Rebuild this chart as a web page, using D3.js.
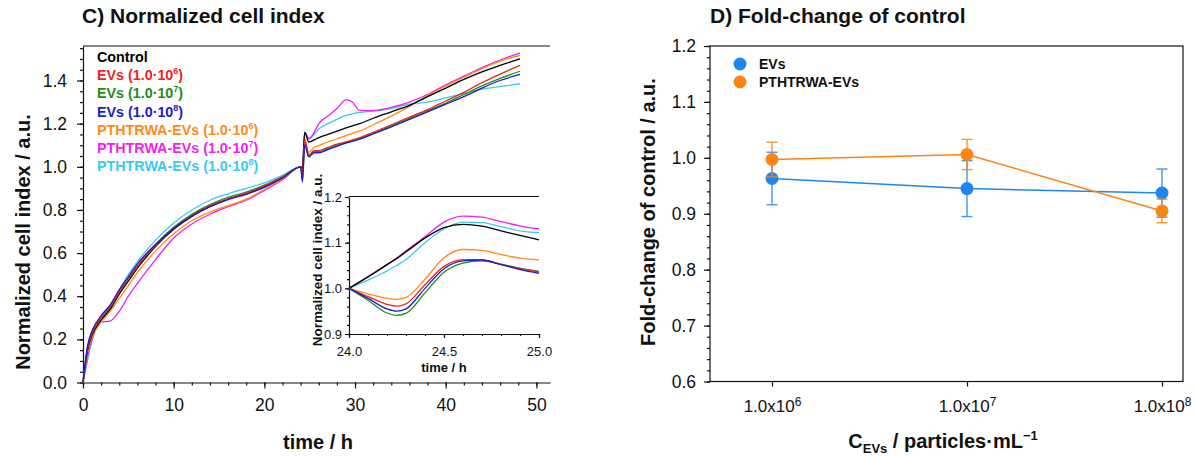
<!DOCTYPE html>
<html>
<head>
<meta charset="utf-8">
<script src="https://cdn.jsdelivr.net/npm/d3@7"></script>
<style>
  body { margin: 0; background: #fff; }
  svg { display: block; font-family: 'Liberation Sans', Arial, sans-serif; }
</style>
</head>
<body>
<svg id="chart" width="1195" height="456"></svg>
<script>
// ---- data: normalized cell index (panel C) ----
const mainTime = [0, 0.5, 1, 2, 3, 4, 5, 6, 8, 10, 12, 14, 16, 18, 20, 22, 24,
  24.2, 24.45, 24.9, 25.5, 26, 27, 28, 29, 29.7, 30.5, 32, 34, 36, 38, 40, 42, 44, 46, 48.2];

const control = [0, 0.15, 0.22, 0.29, 0.34, 0.41, 0.47, 0.53, 0.63, 0.71, 0.77, 0.815, 0.85, 0.875, 0.91, 0.95, 1.0,
  0.99, 1.16, 1.115, 1.125, 1.135, 1.15, 1.165, 1.18, 1.19, 1.2, 1.225, 1.255, 1.285, 1.325, 1.365, 1.405, 1.44, 1.47, 1.50];
const evs6 = [0, 0.16, 0.23, 0.30, 0.35, 0.42, 0.48, 0.54, 0.635, 0.715, 0.775, 0.82, 0.852, 0.878, 0.912, 0.952, 1.0,
  0.96, 1.12, 1.055, 1.075, 1.075, 1.09, 1.105, 1.115, 1.125, 1.135, 1.16, 1.195, 1.23, 1.265, 1.305, 1.345, 1.39, 1.43, 1.47];
const evs7 = [0, 0.16, 0.23, 0.30, 0.355, 0.42, 0.48, 0.54, 0.64, 0.72, 0.78, 0.825, 0.858, 0.883, 0.915, 0.955, 1.0,
  0.94, 1.11, 1.05, 1.07, 1.07, 1.085, 1.1, 1.112, 1.12, 1.13, 1.155, 1.19, 1.225, 1.26, 1.295, 1.335, 1.375, 1.41, 1.443];
const evs8 = [0, 0.17, 0.24, 0.31, 0.36, 0.43, 0.49, 0.55, 0.64, 0.715, 0.772, 0.815, 0.848, 0.872, 0.905, 0.948, 1.0,
  0.93, 1.10, 1.045, 1.065, 1.065, 1.08, 1.095, 1.11, 1.118, 1.128, 1.152, 1.185, 1.22, 1.255, 1.29, 1.325, 1.365, 1.40, 1.428];
const pth6 = [0, 0.14, 0.21, 0.28, 0.33, 0.39, 0.45, 0.51, 0.61, 0.69, 0.75, 0.79, 0.82, 0.85, 0.895, 0.945, 1.0,
  0.97, 1.13, 1.067, 1.09, 1.098, 1.115, 1.13, 1.145, 1.155, 1.165, 1.195, 1.235, 1.28, 1.33, 1.375, 1.415, 1.455, 1.49, 1.516];
const pth7 = [0, 0.12, 0.2, 0.28, 0.285, 0.33, 0.40, 0.46, 0.57, 0.67, 0.735, 0.78, 0.815, 0.845, 0.89, 0.94, 1.0,
  1.0, 1.16, 1.13, 1.16, 1.2, 1.235, 1.27, 1.31, 1.30, 1.262, 1.26, 1.275, 1.3, 1.335, 1.38, 1.42, 1.46, 1.495, 1.527];
const pth8 = [0, 0.10, 0.2, 0.29, 0.35, 0.43, 0.50, 0.56, 0.66, 0.74, 0.80, 0.845, 0.875, 0.9, 0.925, 0.96, 1.0,
  1.0, 1.16, 1.13, 1.15, 1.175, 1.2, 1.22, 1.238, 1.245, 1.252, 1.258, 1.27, 1.29, 1.3, 1.32, 1.34, 1.36, 1.372, 1.385];

// inset, 24-25 h
const insetTime = [24.0, 24.1, 24.2, 24.25, 24.3, 24.4, 24.5, 24.6, 24.7, 24.8, 24.9, 25.0];
const insetControl = [1.0, 1.025, 1.052, 1.065, 1.08, 1.11, 1.133, 1.14, 1.136, 1.126, 1.116, 1.106];
const insetEvs6 = [1.0, 0.982, 0.965, 0.961, 0.966, 1.008, 1.048, 1.063, 1.062, 1.052, 1.043, 1.036];
const insetEvs7 = [1.0, 0.974, 0.946, 0.941, 0.945, 0.99, 1.035, 1.055, 1.060, 1.053, 1.044, 1.037];
const insetEvs8 = [1.0, 0.978, 0.955, 0.950, 0.955, 1.0, 1.043, 1.060, 1.062, 1.052, 1.041, 1.033];
const insetPth6 = [1.0, 0.988, 0.978, 0.976, 0.98, 1.02, 1.067, 1.085, 1.083, 1.074, 1.066, 1.062];
const insetPth7 = [1.0, 1.025, 1.052, 1.066, 1.082, 1.113, 1.145, 1.158, 1.156, 1.146, 1.137, 1.130];
const insetPth8 = [1.0, 1.018, 1.038, 1.05, 1.063, 1.1, 1.13, 1.145, 1.144, 1.135, 1.126, 1.122];

const seriesNames = ['Control', 'EVs', 'EVs', 'EVs', 'PTHTRWA-EVs', 'PTHTRWA-EVs', 'PTHTRWA-EVs'];
const seriesExp = [null, 6, 7, 8, 6, 7, 8];
const seriesColors = ['#000000', '#ee2424', '#1e8c1e', '#1c1cc8', '#ff8a1c', '#f01ef0', '#3cc8f0'];
const mainValues = [control, evs6, evs7, evs8, pth6, pth7, pth8];
const insetValues = [insetControl, insetEvs6, insetEvs7, insetEvs8, insetPth6, insetPth7, insetPth8];

// ---- data: fold-change of control (panel D) ----
const concLevels = [1e6, 1e7, 1e8];
const evsMean = [0.963, 0.945, 0.937];
const evsErr = [0.047, 0.05, 0.043];
const pthMean = [0.997, 1.006, 0.905];
const pthErr = [0.031, 0.027, 0.021];
const foldNames = ['EVs', 'PTHTRWA-EVs'];
const foldColors = ['#1f86f0', '#fb8412'];

const FONT = "'Liberation Sans', Arial, sans-serif";
const svg = d3.select('#chart');

const styleAxis = (g, size) => {
  g.attr('font-size', size).attr('font-family', FONT);
  g.selectAll('path, line').attr('stroke', '#111').attr('stroke-width', 1.2);
  g.selectAll('text').attr('fill', '#111');
};

// ================= panel C =================
{
  const x = d3.scaleLinear().domain([0, 51.5]).range([83, 550]);
  const y = d3.scaleLinear().domain([0, 1.56]).range([382.5, 46]);

  // minor ticks
  svg.append('g')
    .attr('transform', 'translate(0,382.5)')
    .call(d3.axisBottom(x).tickValues(d3.range(0, 51, 2)).tickSize(3).tickFormat(''))
    .call(g => { g.select('.domain').remove(); styleAxis(g, 17); });
  svg.append('g')
    .attr('transform', 'translate(83,0)')
    .call(d3.axisLeft(y).tickValues(d3.range(0, 1.56, 0.05)).tickSize(3).tickFormat(''))
    .call(g => { g.select('.domain').remove(); styleAxis(g, 17); });

  svg.append('g')
    .attr('transform', 'translate(0,382.5)')
    .call(d3.axisBottom(x).tickValues([0, 10, 20, 30, 40, 50]).tickSize(6).tickSizeOuter(0)
      .tickPadding(10).tickFormat(d3.format('d')))
    .call(g => styleAxis(g, 17.5));
  svg.append('g')
    .attr('transform', 'translate(83,0)')
    .call(d3.axisLeft(y).tickValues(d3.range(0, 1.41, 0.2)).tickSize(6).tickSizeOuter(0)
      .tickPadding(10).tickFormat(d3.format('.1f')))
    .call(g => styleAxis(g, 17.5));

  svg.append('line')
    .attr('x1', 83).attr('x2', 550).attr('y1', 46).attr('y2', 46)
    .attr('stroke', '#111').attr('stroke-width', 1.2);

  const line = d3.line()
    .x((d, i) => x(mainTime[i]))
    .y(d => y(d))
    .curve(d3.curveMonotoneX);

  const order = [6, 5, 4, 0, 2, 1, 3];
  svg.append('g').selectAll('path')
    .data(order)
    .join('path')
    .attr('d', k => line(mainValues[k]))
    .attr('fill', 'none')
    .attr('stroke', k => seriesColors[k])
    .attr('stroke-width', 1.3);

  // legend
  const legend = svg.append('g')
    .attr('font-size', 14.3).attr('font-weight', 'bold');
  seriesNames.forEach((name, i) => {
    const t = legend.append('text')
      .attr('x', 97).attr('y', 57 + i * 18.2).attr('dy', '0.35em')
      .attr('fill', seriesColors[i]);
    if (seriesExp[i] === null) {
      t.text(name);
    } else {
      t.append('tspan').text(name + ' (1.0\u00b710');
      t.append('tspan').attr('dy', -6).attr('font-size', 9).text(seriesExp[i]);
      t.append('tspan').attr('dy', 6).text(')');
    }
  });

  svg.append('text')
    .attr('x', 82).attr('y', 23)
    .attr('font-size', 21).attr('font-weight', 'bold').attr('fill', '#111')
    .text('C) Normalized cell index');
  svg.append('text')
    .attr('x', 318).attr('y', 449).attr('text-anchor', 'middle')
    .attr('font-size', 20).attr('font-weight', 'bold').attr('fill', '#111')
    .text('time / h');
  svg.append('text')
    .attr('transform', 'translate(30,242) rotate(-90)').attr('text-anchor', 'middle')
    .attr('font-size', 20).attr('font-weight', 'bold').attr('fill', '#111')
    .text('Normalized cell index / a.u.');

  // inset
  const ix = d3.scaleLinear().domain([24, 25]).range([349, 539]);
  const iy = d3.scaleLinear().domain([0.9, 1.2]).range([334, 197]);

  svg.append('g')
    .attr('transform', 'translate(0,334)')
    .call(d3.axisBottom(ix).tickValues(d3.range(24, 25.01, 0.1)).tickSize(2).tickFormat(''))
    .call(g => { g.select('.domain').remove(); styleAxis(g, 13); });
  svg.append('g')
    .attr('transform', 'translate(349,0)')
    .call(d3.axisLeft(iy).tickValues(d3.range(0.9, 1.201, 0.02)).tickSize(2).tickFormat(''))
    .call(g => { g.select('.domain').remove(); styleAxis(g, 13); });
  svg.append('g')
    .attr('transform', 'translate(0,334)')
    .call(d3.axisBottom(ix).tickValues([24, 24.5, 25]).tickSize(4).tickSizeOuter(0)
      .tickPadding(9).tickFormat(d3.format('.1f')))
    .call(g => styleAxis(g, 13));
  svg.append('g')
    .attr('transform', 'translate(349,0)')
    .call(d3.axisLeft(iy).tickValues([0.9, 1.0, 1.1, 1.2]).tickSize(4).tickSizeOuter(0)
      .tickPadding(3).tickFormat(d3.format('.1f')))
    .call(g => styleAxis(g, 13));
  svg.append('line')
    .attr('x1', 349).attr('x2', 539).attr('y1', 196.5).attr('y2', 196.5)
    .attr('stroke', '#111').attr('stroke-width', 1.2);

  const iline = d3.line()
    .x((d, i) => ix(insetTime[i]))
    .y(d => iy(d))
    .curve(d3.curveMonotoneX);

  svg.append('g').selectAll('path')
    .data(order)
    .join('path')
    .attr('d', k => iline(insetValues[k]))
    .attr('fill', 'none')
    .attr('stroke', k => seriesColors[k])
    .attr('stroke-width', 1.3);

  svg.append('text')
    .attr('x', 444).attr('y', 372).attr('text-anchor', 'middle')
    .attr('font-size', 13).attr('font-weight', 'bold').attr('fill', '#111')
    .text('time / h');
  svg.append('text')
    .attr('transform', 'translate(322,260) rotate(-90)').attr('text-anchor', 'middle')
    .attr('font-size', 13.5).attr('font-weight', 'bold').attr('fill', '#111')
    .text('Normalized cell index / a.u.');
}

// ================= panel D =================
{
  const x = d3.scaleLog().domain([1e6, 1e8]).range([772, 1162]);
  const y = d3.scaleLinear().domain([0.6, 1.2]).range([381.5, 46]);

  svg.append('rect')
    .attr('x', 710).attr('y', 46).attr('width', 473).attr('height', 335.5)
    .attr('fill', 'none').attr('stroke', '#111').attr('stroke-width', 1.2);

  svg.append('g')
    .attr('transform', 'translate(710,0)')
    .call(d3.axisLeft(y).tickValues(d3.range(0.6, 1.201, 0.02)).tickSize(3).tickFormat(''))
    .call(g => { g.select('.domain').remove(); styleAxis(g, 17); });
  svg.append('g')
    .attr('transform', 'translate(710,0)')
    .call(d3.axisLeft(y).tickValues(d3.range(0.6, 1.201, 0.1)).tickSize(6).tickSizeOuter(0)
      .tickPadding(8).tickFormat(d3.format('.1f')))
    .call(g => { g.select('.domain').remove(); styleAxis(g, 17.5); });

  svg.append('g')
    .attr('transform', 'translate(0,381.5)')
    .call(d3.axisBottom(x).tickValues(concLevels).tickSize(5).tickPadding(13).tickFormat(''))
    .call(g => {
      g.select('.domain').remove();
      styleAxis(g, 17);
      g.selectAll('.tick text').each(function(d) {
        const t = d3.select(this);
        t.append('tspan').text('1.0x10');
        t.append('tspan').attr('dy', -6).attr('font-size', 12).text(Math.round(Math.log10(d)));
      });
    });

  const series = [
    {mean: evsMean, err: evsErr, color: foldColors[0]},
    {mean: pthMean, err: pthErr, color: foldColors[1]}
  ];

  series.forEach(s => {
    const g = svg.append('g');
    const line = d3.line().x((d, i) => x(concLevels[i])).y(d => y(d));
    g.append('path')
      .attr('d', line(s.mean))
      .attr('fill', 'none').attr('stroke', s.color).attr('stroke-width', 1.5);

    const bars = g.selectAll('.err').data(s.mean).join('g').attr('class', 'err')
      .attr('stroke', s.color).attr('stroke-width', 1.4).attr('opacity', 0.85);
    bars.append('line')
      .attr('x1', (d, i) => x(concLevels[i])).attr('x2', (d, i) => x(concLevels[i]))
      .attr('y1', (d, i) => y(d - s.err[i])).attr('y2', (d, i) => y(d + s.err[i]));
    bars.append('line')
      .attr('x1', (d, i) => x(concLevels[i]) - 5.5).attr('x2', (d, i) => x(concLevels[i]) + 5.5)
      .attr('y1', (d, i) => y(d + s.err[i])).attr('y2', (d, i) => y(d + s.err[i]));
    bars.append('line')
      .attr('x1', (d, i) => x(concLevels[i]) - 5.5).attr('x2', (d, i) => x(concLevels[i]) + 5.5)
      .attr('y1', (d, i) => y(d - s.err[i])).attr('y2', (d, i) => y(d - s.err[i]));

    g.selectAll('circle').data(s.mean).join('circle')
      .attr('cx', (d, i) => x(concLevels[i])).attr('cy', d => y(d))
      .attr('r', 6.5).attr('fill', s.color);
  });

  // legend
  foldNames.forEach((name, i) => {
    svg.append('circle')
      .attr('cx', 740).attr('cy', 64 + i * 18).attr('r', 6.5).attr('fill', foldColors[i]);
    svg.append('text')
      .attr('x', 759).attr('y', 64 + i * 18).attr('dy', '0.35em')
      .attr('font-size', 14).attr('font-weight', 'bold').attr('fill', '#111')
      .text(name);
  });

  svg.append('text')
    .attr('x', 710).attr('y', 23)
    .attr('font-size', 21).attr('font-weight', 'bold').attr('fill', '#111')
    .text('D) Fold-change of control');

  const xt = svg.append('text')
    .attr('x', 943).attr('y', 448).attr('text-anchor', 'middle')
    .attr('font-size', 20).attr('font-weight', 'bold').attr('fill', '#111');
  xt.append('tspan').text('C');
  xt.append('tspan').attr('dy', 5).attr('font-size', 13).text('EVs');
  xt.append('tspan').attr('dy', -5).text(' / particles\u00b7mL');
  xt.append('tspan').attr('dy', -8).attr('font-size', 13).text('\u22121');

  svg.append('text')
    .attr('transform', 'translate(655,212) rotate(-90)').attr('text-anchor', 'middle')
    .attr('font-size', 20).attr('font-weight', 'bold').attr('fill', '#111')
    .text('Fold-change of control / a.u.');
}
</script>
</body>
</html>
